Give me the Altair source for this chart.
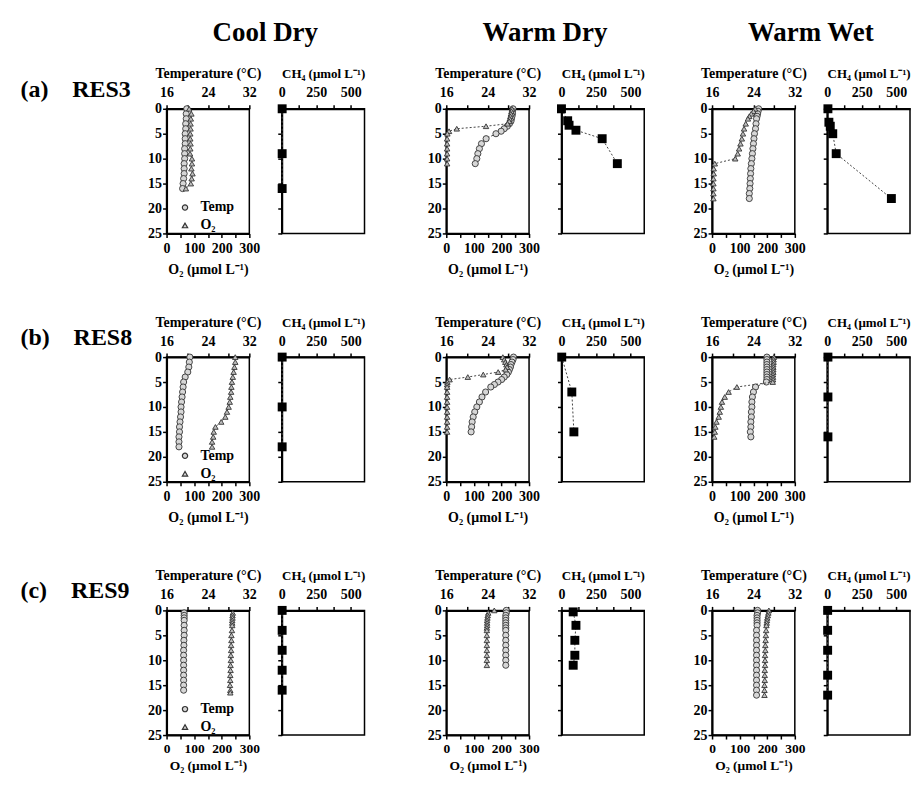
import altair as alt
import pandas as pd

FONT = "Liberation Serif"

# ---------------- labels ----------------
COLUMNS = ["Cool Dry", "Warm Dry", "Warm Wet"]
ROW_LABELS = ["(a)\u00a0\u00a0\u00a0\u00a0RES3", "(b)\u00a0\u00a0\u00a0\u00a0RES8", "(c)\u00a0\u00a0\u00a0\u00a0RES9"]
TEMP_TICKS = [16, 20, 24, 28, 32]
O2_TICKS = [0, 50, 100, 150, 200, 250, 300]
CH4_TICKS = [0, 125, 250, 375, 500]
DEPTH_TICKS = [0, 5, 10, 15, 20, 25]

# ---------------- (a) RES3 ----------------
A_CD_DEPTH = [0, 1, 2, 3, 4, 5, 6, 7, 8, 9, 10, 11, 12, 13, 14, 15, 16]
A_CD_TEMP = [19.9, 19.8, 19.8, 19.7, 19.7, 19.6, 19.6, 19.6, 19.5, 19.5, 19.5, 19.4, 19.4, 19.4, 19.3, 19.2, 19.1]
A_CD_O2 = [82, 90, 88, 87, 87, 86, 86, 87, 86, 85, 92, 92, 90, 94, 91, 88, 70]
A_CD_CH4_DEPTH = [0, 9, 16]
A_CD_CH4 = [3, 3, 3]

A_WD_DEPTH = [0, 0.5, 1, 1.5, 2, 2.5, 3, 3.5, 4, 4.5, 5, 6, 7, 8, 9, 10, 11]
A_WD_TEMP = [28.9, 28.8, 28.8, 28.7, 28.6, 28.5, 28.2, 27.8, 27.2, 26.6, 25.6, 23.7, 22.8, 22.4, 22.1, 21.9, 21.6]
A_WD_O2 = [238, 236, 234, 232, 230, 228, 222, 144, 38, 10, 4, 3, 3, 3, 3, 3, 3]
A_WD_CH4_DEPTH = [0, 2.4, 3.3, 4.3, 6, 11]
A_WD_CH4 = [0, 45, 55, 105, 295, 405]

A_WW_DEPTH = [0, 0.5, 1, 1.5, 2, 3, 4, 5, 6, 7, 8, 9, 10, 11, 12, 13, 14, 15, 16, 17, 18]
A_WW_TEMP = [25.0, 24.9, 24.8, 24.7, 24.6, 24.5, 24.4, 24.2, 24.1, 24.0, 23.9, 23.8, 23.7, 23.6, 23.5, 23.45, 23.4, 23.35, 23.3, 23.2, 23.2]
A_WW_O2 = [156, 150, 142, 135, 130, 122, 116, 112, 108, 103, 98, 93, 84, 10, 6, 6, 5, 5, 5, 5, 5]
A_WW_CH4_DEPTH = [0, 2.7, 3.5, 5, 9, 18]
A_WW_CH4 = [5, 12, 22, 40, 65, 465]

# ---------------- (b) RES8 ----------------
B_CD_DEPTH = [0, 1, 2, 3, 4, 5, 6, 7, 8, 9, 10, 11, 12, 13, 14, 15, 16, 17, 18]
B_CD_TEMP = [20.5, 20.4, 20.3, 20.1, 19.6, 19.3, 19.2, 19.1, 19.0, 18.9, 18.8, 18.8, 18.7, 18.6, 18.5, 18.5, 18.4, 18.4, 18.4]
B_CD_O2 = [249, 249, 246, 243, 240, 237, 235, 234, 231, 229, 225, 219, 213, 198, 177, 171, 169, 165, 165]
B_CD_CH4_DEPTH = [0, 10, 18]
B_CD_CH4 = [3, 3, 3]

B_WD_DEPTH = [0, 0.5, 1, 1.5, 2, 2.5, 3, 3.5, 4, 4.5, 5, 5.5, 6, 7, 8, 9, 10, 11, 12, 13, 14, 15]
B_WD_TEMP = [29.0, 28.9, 28.7, 28.5, 28.4, 28.2, 28.0, 27.7, 27.2, 26.7, 26.0, 25.3, 24.6, 23.6, 22.9, 22.4, 21.9, 21.5, 21.2, 21.0, 20.9, 20.8]
B_WD_O2 = [205, 210, 214, 218, 220, 215, 188, 134, 78, 12, 4, 3, 3, 3, 3, 3, 3, 3, 3, 3, 3, 3]
B_WD_CH4_DEPTH = [0, 7, 15]
B_WD_CH4 = [2, 75, 90]

B_WW_DEPTH = [0, 0.5, 1, 1.5, 2, 2.5, 3, 3.5, 4, 4.5, 5, 6, 7, 8, 9, 10, 11, 12, 13, 14, 15, 16]
B_WW_TEMP = [26.6, 26.6, 26.6, 26.6, 26.6, 26.6, 26.6, 26.6, 26.6, 26.6, 26.5, 24.4, 24.0, 23.8, 23.7, 23.7, 23.6, 23.6, 23.5, 23.5, 23.4, 23.5]
B_WW_O2 = [224, 223, 223, 222, 222, 222, 222, 221, 221, 221, 220, 90, 60, 46, 36, 32, 28, 24, 16, 12, 10, 8]
B_WW_CH4_DEPTH = [0, 8, 16]
B_WW_CH4 = [5, 5, 5]

# ---------------- (c) RES9 ----------------
C_CD_T_DEPTH = [0.5, 1, 1.5, 2, 3, 4, 5, 6, 7, 8, 9, 10, 11, 12, 13, 14, 15, 16]
C_CD_TEMP = [19.4, 19.4, 19.4, 19.4, 19.4, 19.4, 19.4, 19.35, 19.35, 19.3, 19.3, 19.3, 19.3, 19.3, 19.3, 19.3, 19.3, 19.3]
C_CD_O2_DEPTH = [0.5, 1, 1.5, 2, 2.5, 3, 4, 5, 6, 7, 8, 9, 10, 11, 12, 13, 14, 15, 16, 16.5]
C_CD_O2 = [240, 239, 239, 238, 238, 238, 237, 235, 235, 234, 234, 233, 233, 232, 232, 231, 231, 230, 231, 231]
C_CD_CH4_DEPTH = [0, 4, 8, 12, 16]
C_CD_CH4 = [3, 3, 3, 3, 3]

C_WD_DEPTH = [0, 0.5, 1, 1.5, 2, 2.5, 3, 3.5, 4, 5, 6, 7, 8, 9, 10, 11]
C_WD_TEMP = [27.6, 27.6, 27.5, 27.5, 27.5, 27.5, 27.5, 27.5, 27.5, 27.5, 27.5, 27.5, 27.5, 27.5, 27.5, 27.5]
C_WD_O2 = [174, 152, 150, 149, 148, 148, 148, 147, 147, 147, 147, 147, 147, 147, 147, 147]
C_WD_CH4_DEPTH = [0.3, 3, 6, 9, 11]
C_WD_CH4 = [85, 105, 97, 97, 85]

C_WW_DEPTH = [0, 0.5, 1, 1.5, 2, 2.5, 3, 4, 5, 6, 7, 8, 9, 10, 11, 12, 13, 14, 15, 16, 17]
C_WW_TEMP = [24.8, 24.8, 24.7, 24.7, 24.7, 24.7, 24.7, 24.6, 24.6, 24.6, 24.6, 24.6, 24.6, 24.6, 24.6, 24.6, 24.6, 24.6, 24.6, 24.6, 24.6]
C_WW_O2 = [206, 204, 202, 200, 199, 198, 197, 196, 195, 194, 193, 193, 192, 192, 192, 191, 191, 191, 190, 190, 190]
C_WW_CH4_DEPTH = [0, 4, 8, 13, 17]
C_WW_CH4 = [3, 3, 3, 3, 3]

# ---------------- styling ----------------
PW, PH = 83, 125
LINE_KW = dict(color="#444444", strokeWidth=1, strokeDash=[2, 2])


def ax(**kw):
    base = dict(labelFont=FONT, labelFontSize=14, labelFontWeight="bold", labelColor="black",
                titleFont=FONT, titleFontSize=14, titleFontWeight="bold", titleColor="black",
                domainColor="black", domainWidth=2, tickColor="black", tickWidth=1.5, tickSize=4,
                grid=False, labelPadding=5, titlePadding=5, labelOverlap=False, labelFlush=False)
    base.update(kw)
    return alt.Axis(**base)


def y_enc(labels=True):
    return alt.Y("depth:Q", scale=alt.Scale(domain=[0, 25], reverse=True, nice=False, zero=False),
                 axis=ax(values=DEPTH_TICKS, labels=labels, title="", labelPadding=1))


def temp_x():
    return alt.X("val:Q", scale=alt.Scale(domain=[16, 32], nice=False, zero=False),
                 axis=ax(orient="top", values=TEMP_TICKS,
                         labelExpr="(datum.value - 16) % 8 == 0 ? datum.label : ''",
                         title="Temperature (°C)"))


def o2_x(compact=False):
    extra = (dict(labelPadding=3, titlePadding=3, labelFontSize=13.5, titleFontSize=13.5)
             if compact else dict(labelPadding=4, titlePadding=7))
    return alt.X("val:Q", scale=alt.Scale(domain=[0, 300], nice=False),
                 axis=ax(orient="bottom", values=O2_TICKS,
                         labelExpr="datum.value % 100 == 0 ? datum.label : ''",
                         title="O₂ (μmol L⁻¹)", **extra))


def ch4_x():
    return alt.X("val:Q", scale=alt.Scale(domain=[0, 600], nice=False),
                 axis=ax(orient="top", values=CH4_TICKS, titleFontSize=13,
                         labelExpr="datum.value % 250 == 0 ? datum.label : ''",
                         title="CH₄ (μmol L⁻¹)"))


LEGEND = alt.Legend(orient="none", legendX=11.5, legendY=92, title=None,
                    labelFont=FONT, labelFontSize=14, labelFontWeight="bold", labelColor="black",
                    symbolSize=28, symbolStrokeWidth=1.2, labelOffset=8.5, rowPadding=4, padding=0)


def temp_panel(depth_t, temp, depth_o, o2, show_legend=False, col_title=None, compact=False):
    tdf = pd.DataFrame({"depth": depth_t, "val": temp, "var": "Temp"})
    odf = pd.DataFrame({"depth": depth_o, "val": o2, "var": "O₂"})
    y = y_enc(True)
    xo = o2_x(compact)
    t_line = alt.Chart(tdf).mark_line(**LINE_KW).encode(x=temp_x(), y=y, order=alt.Order("depth:Q"))
    o_line = alt.Chart(odf).mark_line(**LINE_KW).encode(x=xo, y=y, order=alt.Order("depth:Q"))
    t_mark = alt.Chart(tdf).mark_point(shape="circle", filled=True, color="#d6d6d6", stroke="#333333",
                                       strokeWidth=0.9, size=38, opacity=1)
    o_mark = alt.Chart(odf).mark_point(shape="triangle-up", filled=True, color="#bdbdbd", stroke="#333333",
                                       strokeWidth=0.9, size=30, opacity=1)
    if show_legend:
        shp = alt.Shape("var:N", scale=alt.Scale(domain=["Temp", "O₂"], range=["circle", "triangle-up"]),
                        legend=LEGEND)
        t_pts = t_mark.encode(x=temp_x(), y=y, shape=shp)
        o_pts = o_mark.encode(x=xo, y=y, shape=shp)
    else:
        t_pts = t_mark.encode(x=temp_x(), y=y)
        o_pts = o_mark.encode(x=xo, y=y)
    panel = alt.layer(alt.layer(t_line, t_pts), alt.layer(o_line, o_pts)).resolve_scale(x="independent")
    props = dict(width=PW, height=PH)
    if col_title:
        props["title"] = alt.TitleParams(col_title, anchor="middle", frame="group", dx=57.5, offset=20,
                                         font=FONT, fontSize=27, fontWeight="bold", color="black")
    return panel.properties(**props)


def ch4_panel(depth, val):
    df = pd.DataFrame({"depth": depth, "val": val})
    y = y_enc(False)
    line = alt.Chart(df).mark_line(**LINE_KW).encode(x=ch4_x(), y=y, order=alt.Order("depth:Q"))
    pts = alt.Chart(df).mark_square(size=80, color="black", opacity=1).encode(x=ch4_x(), y=y)
    return alt.layer(line, pts).properties(width=PW, height=PH)


def blank(w, h, title=None):
    c = alt.Chart(pd.DataFrame({"v": [0]})).mark_text(opacity=0).encode(text=alt.value(" "))
    props = dict(width=w, height=h, view=alt.ViewBackground(stroke="transparent"))
    if title:
        props["title"] = alt.TitleParams(title, anchor="start", frame="group", offset=7,
                                         font=FONT, fontSize=24, fontWeight="bold", color="black")
    return c.properties(**props)


rows = [
    (ROW_LABELS[0], 125,
     (A_CD_DEPTH, A_CD_TEMP, A_CD_DEPTH, A_CD_O2, A_CD_CH4_DEPTH, A_CD_CH4),
     (A_WD_DEPTH, A_WD_TEMP, A_WD_DEPTH, A_WD_O2, A_WD_CH4_DEPTH, A_WD_CH4),
     (A_WW_DEPTH, A_WW_TEMP, A_WW_DEPTH, A_WW_O2, A_WW_CH4_DEPTH, A_WW_CH4)),
    (ROW_LABELS[1], 130,
     (B_CD_DEPTH, B_CD_TEMP, B_CD_DEPTH, B_CD_O2, B_CD_CH4_DEPTH, B_CD_CH4),
     (B_WD_DEPTH, B_WD_TEMP, B_WD_DEPTH, B_WD_O2, B_WD_CH4_DEPTH, B_WD_CH4),
     (B_WW_DEPTH, B_WW_TEMP, B_WW_DEPTH, B_WW_O2, B_WW_CH4_DEPTH, B_WW_CH4)),
    (ROW_LABELS[2], 125,
     (C_CD_T_DEPTH, C_CD_TEMP, C_CD_O2_DEPTH, C_CD_O2, C_CD_CH4_DEPTH, C_CD_CH4),
     (C_WD_DEPTH, C_WD_TEMP, C_WD_DEPTH, C_WD_O2, C_WD_CH4_DEPTH, C_WD_CH4),
     (C_WW_DEPTH, C_WW_TEMP, C_WW_DEPTH, C_WW_O2, C_WW_CH4_DEPTH, C_WW_CH4)),
]

items = []
for r, (label, lab_h, cd, wd, ww) in enumerate(rows):
    items.append(blank(114, lab_h, label))
    for ci, (d, spacer_w) in enumerate([(cd, 16.5), (wd, 3), (ww, None)]):
        title = COLUMNS[ci] if r == 0 else None
        items.append(temp_panel(d[0], d[1], d[2], d[3], show_legend=(ci == 0), col_title=title,
                                compact=(r == 2)))
        items.append(ch4_panel(d[4], d[5]))
        if spacer_w is not None:
            items.append(blank(spacer_w, PH))

chart = (
    alt.concat(*items, columns=9, spacing={"row": 124, "column": 32.5}, bounds="flush", align="each")
    .resolve_scale(shape="independent")
    .resolve_legend(shape="independent")
    .properties(padding={"left": 11.5, "top": 9, "right": 0, "bottom": 0}, background="white")
    .configure_view(stroke="black", strokeWidth=1.5)
)

chart.save("out.html", embed_options={"renderer": "svg", "actions": False})
